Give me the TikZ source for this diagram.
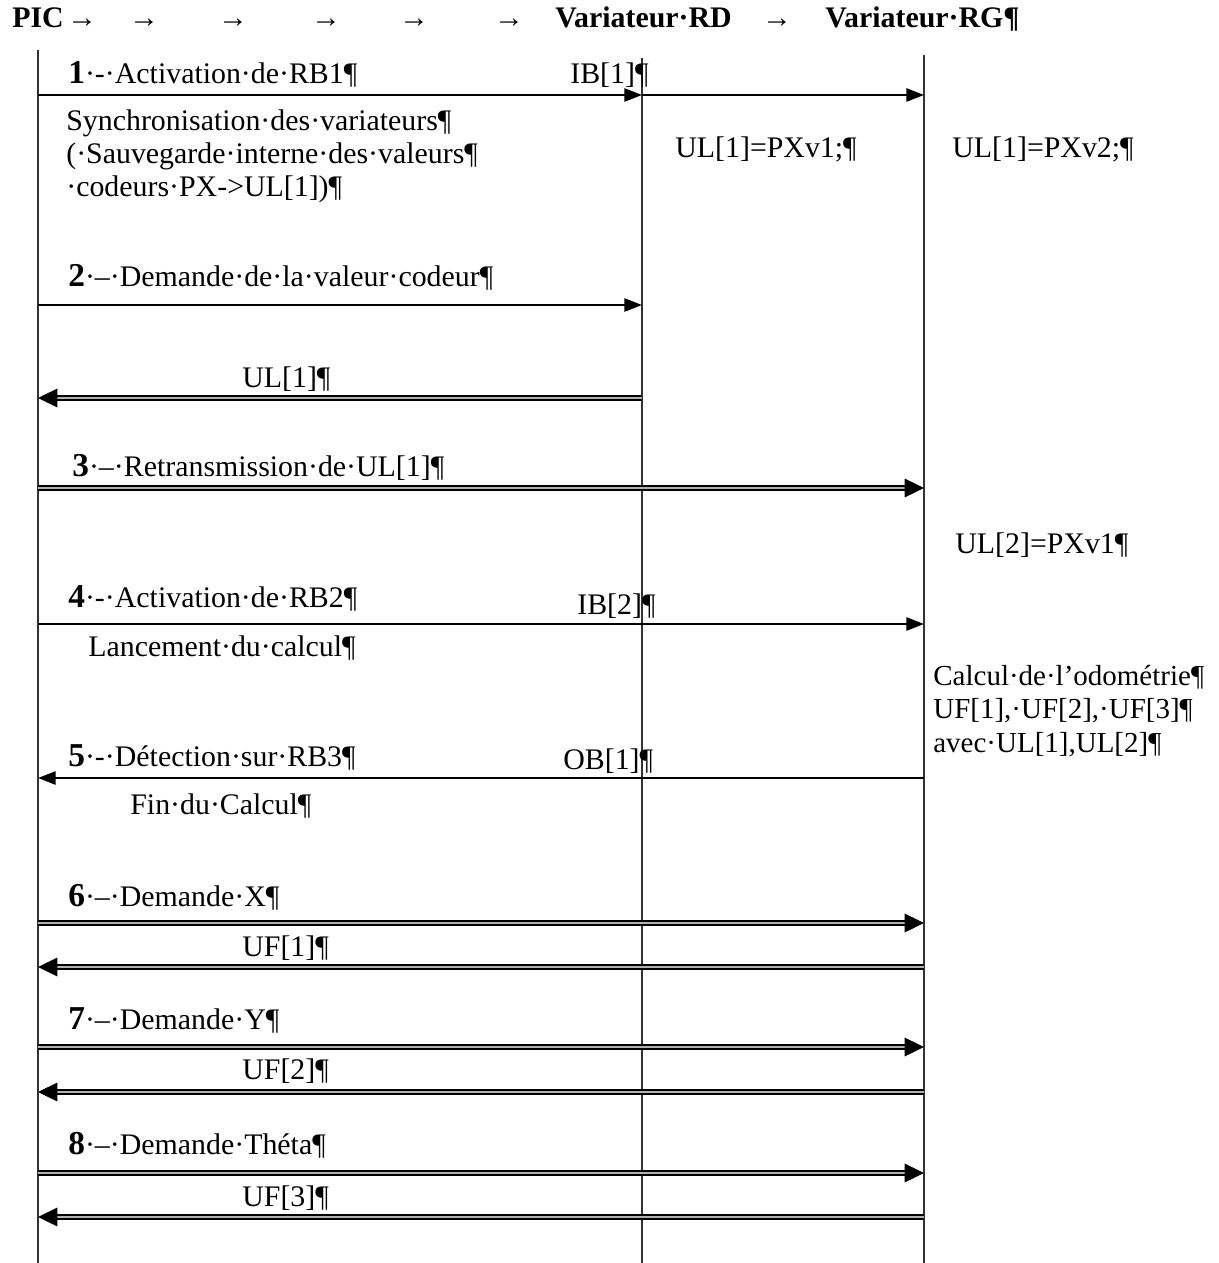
\documentclass[tikz,border=0pt]{standalone}
\usepackage{fontspec}
\setmainfont{Liberation Serif}
\usetikzlibrary{arrows.meta}

\newcommand{\numstep}[1]{{\fontsize{19}{19}\selectfont\bfseries #1}}

\begin{document}
\begin{tikzpicture}[
    x=0.02cm, y=-0.02cm,
    >={Triangle[length=10pt,width=7.5pt]},
    lifeline/.style={draw=black!80, line width=0.7pt},
    msg/.style={->, line width=1.1pt},
    dmsg/.style={-{Triangle[length=11pt,width=10.5pt]}, line width=1.1pt, double=black!30, double distance=1.5pt},
    lbl/.style={anchor=base west, inner sep=0pt, font=\fontsize{17}{19}\selectfont},
    txt/.style={lbl, anchor=north west, align=left},
    head/.style={lbl, font=\fontsize{17}{19}\selectfont\bfseries}
  ]
  \path[use as bounding box, fill=white] (0,0) rectangle (1218,1263);

  % header
  \node[head] (hpic) at (12,28) {PIC};
  \foreach \x [count=\i] in {82,144,233,326,414,509,777}
    \node[head, anchor=base] (harr\i) at (\x,28) {→};
  \node[head] (hrd) at (555,28) {Variateur·RD};
  \node[head] (hrg) at (825,28) {Variateur·RG¶};

  % lifelines
  \coordinate (pic) at (38,50);
  \coordinate (rd) at (642,58);
  \coordinate (rg) at (924,55);
  \coordinate (picend) at (38,1263);
  \coordinate (rdend) at (642,1263);
  \coordinate (rgend) at (924,1263);
  \draw[lifeline] (pic) -- (picend);
  \draw[lifeline] (rd) -- (rdend);
  \draw[lifeline] (rg) -- (rgend);

  % message rows
  \foreach \y [count=\i] in {95,305,398,488,624,778,923,967,1047,1092,1173,1217}
    \coordinate (r\i) at (0,\y);

  % texts
  \node[lbl] (lact1) at (68,84) {\numstep{1}·-·Activation·de·RB1¶};
  \node[lbl] (lib1) at (570,84) {IB[1]¶};
  \node[txt] (lsync) at (66,109) {Synchronisation·des·variateurs¶\\(·Sauvegarde·interne·des·valeurs¶\\·codeurs·PX->UL[1])¶};
  \node[lbl] (lpxrd) at (675,158) {UL[1]=PXv1;¶};
  \node[lbl] (lpxrg) at (952,158) {UL[1]=PXv2;¶};
  \node[lbl] (ldem) at (68,287) {\numstep{2}·–·Demande·de·la·valeur·codeur¶};
  \node[lbl] (lul1) at (242,388) {UL[1]¶};
  \node[lbl] (lretr) at (72,476) {\numstep{3}·–·Retransmission·de·UL[1]¶};
  \node[lbl] (lpx2) at (955,553) {UL[2]=PXv1¶};
  \node[lbl] (lact2) at (68,607) {\numstep{4}·-·Activation·de·RB2¶};
  \node[lbl] (lib2) at (577,614) {IB[2]¶};
  \node[lbl] (llanc) at (88,656) {Lancement·du·calcul¶};
  \node[txt, font=\fontsize{16.5}{19}\selectfont] (lcalc) at (933,665) {Calcul·de·l’odométrie¶\\UF[1],·UF[2],·UF[3]¶\\avec·UL[1],UL[2]¶};
  \node[lbl] (ldet) at (68,766) {\numstep{5}·-·Détection·sur·RB3¶};
  \node[lbl] (lob1) at (563,769) {OB[1]¶};
  \node[lbl] (lfin) at (130,814) {Fin·du·Calcul¶};
  \node[lbl] (ldx) at (68,906) {\numstep{6}·–·Demande·X¶};
  \node[lbl] (luf1) at (242,956) {UF[1]¶};
  \node[lbl] (ldy) at (68,1029) {\numstep{7}·–·Demande·Y¶};
  \node[lbl] (luf2) at (242,1079) {UF[2]¶};
  \node[lbl] (ldth) at (68,1154) {\numstep{8}·–·Demande·Théta¶};
  \node[lbl] (luf3) at (242,1206) {UF[3]¶};

  % messages
  \draw[msg] (pic |- r1) -- (rd |- r1);
  \draw[msg] (rd |- r1) -- (rg |- r1);
  \draw[msg] (pic |- r2) -- (rd |- r2);
  \draw[dmsg] (rd |- r3) -- (pic |- r3);
  \draw[dmsg] (pic |- r4) -- (rg |- r4);
  \draw[msg] (pic |- r5) -- (rg |- r5);
  \draw[msg] (rg |- r6) -- (pic |- r6);
  \draw[dmsg] (pic |- r7) -- (rg |- r7);
  \draw[dmsg] (rg |- r8) -- (pic |- r8);
  \draw[dmsg] (pic |- r9) -- (rg |- r9);
  \draw[dmsg] (rg |- r10) -- (pic |- r10);
  \draw[dmsg] (pic |- r11) -- (rg |- r11);
  \draw[dmsg] (rg |- r12) -- (pic |- r12);
\end{tikzpicture}
\end{document}
